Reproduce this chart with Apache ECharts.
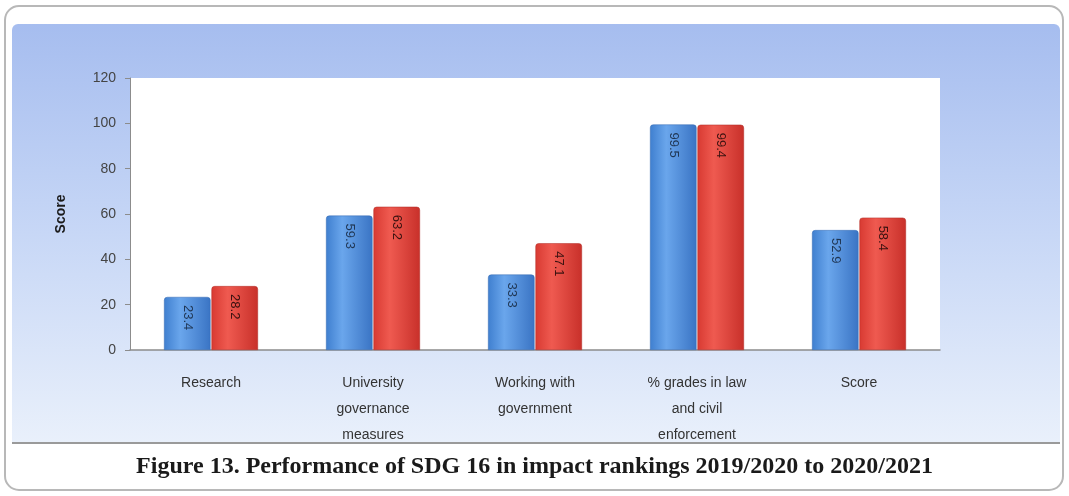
<!DOCTYPE html>
<html>
  <head>
    <meta charset="utf-8" />
    <script src="https://cdn.jsdelivr.net/npm/echarts@6/dist/echarts.min.js"></script>
    <style>
      html, body { margin: 0; padding: 0; background: #ffffff; }
    </style>
  </head>
  <body>
    <div id="chart" style="width: 1069px; height: 496px;"></div>
    <script>
        // Data
        var categories = ['Research', 'University\ngovernance\nmeasures', 'Working with\ngovernment', '% grades in law\nand civil\nenforcement', 'Score'];
        var year2020 = [23.4, 59.3, 33.3, 99.5, 52.9];
        var year2021 = [28.2, 63.2, 47.1, 99.4, 58.4];
        var yTicks = [0, 20, 40, 60, 80, 100, 120];

        function barColor(a, b, c) {
            return new echarts.graphic.LinearGradient(0, 0, 1, 0, [
                { offset: 0, color: a },
                { offset: 0.35, color: b },
                { offset: 1, color: c }
            ]);
        }

        function labelStyle(color) {
            return {
                show: true,
                position: 'insideTop',
                rotate: -90,
                align: 'left',
                verticalAlign: 'middle',
                distance: 8,
                color: color,
                fontSize: 13,
                fontFamily: 'Liberation Sans',
                formatter: function (p) { return p.value.toFixed(1); }
            };
        }

        var chart = echarts.init(document.getElementById('chart'));

        var option = {
            animation: false,
            graphic: [
                {
                    type: 'rect',
                    shape: { x: 5, y: 6, width: 1058, height: 484, r: 14 },
                    style: { fill: '#ffffff', stroke: '#b8b8b8', lineWidth: 2 },
                    z: -10
                },
                {
                    type: 'rect',
                    shape: { x: 12, y: 24, width: 1048, height: 418, r: [6, 6, 0, 0] },
                    style: {
                        fill: new echarts.graphic.LinearGradient(0, 0, 0, 1, [
                            { offset: 0, color: '#a6bdef' },
                            { offset: 0.5, color: '#c7d7f6' },
                            { offset: 1, color: '#e9f0fb' }
                        ])
                    },
                    z: -9
                },
                {
                    type: 'line',
                    shape: { x1: 12, y1: 443, x2: 1060, y2: 443 },
                    style: { stroke: '#9a9a9a', lineWidth: 2 },
                    z: -8
                },
                {
                    type: 'text',
                    left: 'center',
                    top: 455,
                    style: {
                        text: 'Figure 13. Performance of SDG 16 in impact rankings 2019/2020 to 2020/2021',
                        font: 'bold 24px "Liberation Serif"',
                        fill: '#1a1a1a'
                    }
                }
            ],
            grid: {
                left: 130,
                right: 129,
                top: 78,
                bottom: 146,
                show: true,
                backgroundColor: '#ffffff',
                borderWidth: 0
            },
            xAxis: {
                type: 'category',
                data: categories,
                axisLine: { lineStyle: { color: '#8c8c8c', width: 1.5 } },
                axisTick: { show: false },
                axisLabel: {
                    color: '#333333',
                    fontSize: 14,
                    fontFamily: 'Liberation Sans',
                    margin: 20,
                    lineHeight: 26,
                    interval: 0
                }
            },
            yAxis: {
                type: 'value',
                min: 0,
                max: 120,
                interval: 20,
                name: 'Score',
                nameLocation: 'middle',
                nameGap: 62,
                nameRotate: 90,
                nameTextStyle: { color: '#1a1a1a', fontWeight: 'bold', fontSize: 14, fontFamily: 'Liberation Sans' },
                axisLine: { show: true, lineStyle: { color: '#8c8c8c' } },
                axisTick: { show: true, length: 5, lineStyle: { color: '#8c8c8c' } },
                splitLine: { show: false },
                axisLabel: {
                    color: '#444444',
                    fontSize: 14,
                    fontFamily: 'Liberation Sans',
                    margin: 14,
                    formatter: function (v) { return yTicks.indexOf(v) >= 0 ? String(v) : ''; }
                }
            },
            series: [
                {
                    name: '2019/2020',
                    type: 'bar',
                    data: year2020,
                    barGap: '2%',
                    barCategoryGap: '42%',
                    itemStyle: {
                        color: barColor('#3f7fcf', '#6aa6ec', '#3a74c4'),
                        borderColor: '#3568b0',
                        borderWidth: 0.5,
                        borderRadius: [3, 3, 0, 0]
                    },
                    label: labelStyle('#1f3552')
                },
                {
                    name: '2020/2021',
                    type: 'bar',
                    data: year2021,
                    itemStyle: {
                        color: barColor('#d83a32', '#ef5a50', '#c8302a'),
                        borderColor: '#b12a24',
                        borderWidth: 0.5,
                        borderRadius: [3, 3, 0, 0]
                    },
                    label: labelStyle('#3a1210')
                }
            ]
        };

        chart.setOption(option);
    </script>
  </body>
</html>
